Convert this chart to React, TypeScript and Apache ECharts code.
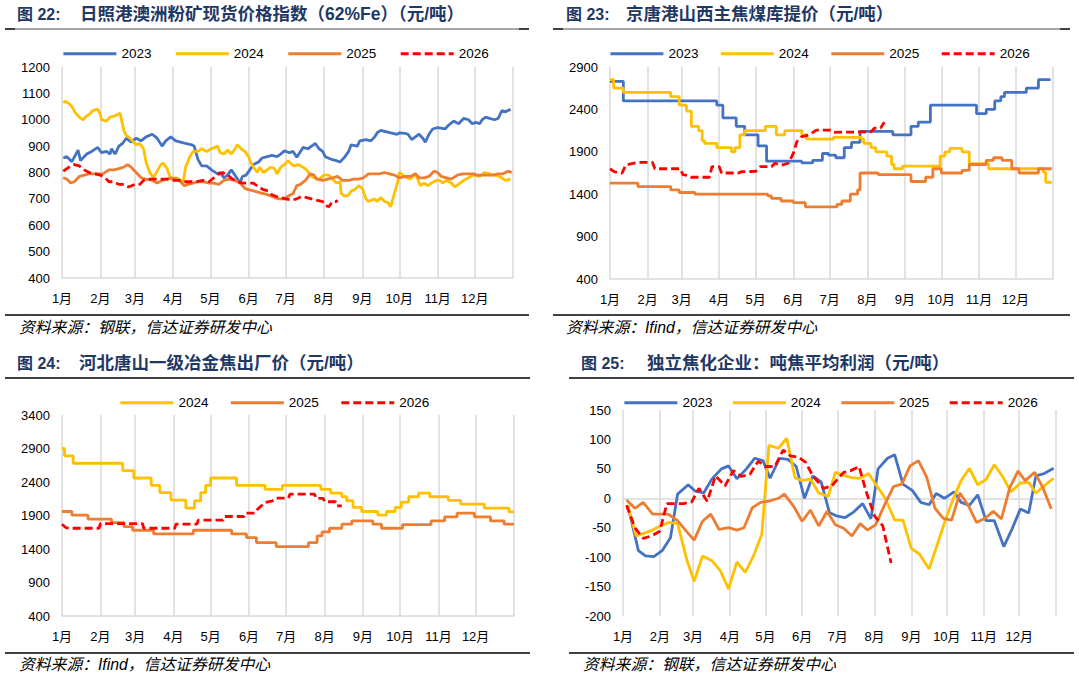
import React, { useEffect, useRef } from 'react';
import * as echarts from 'echarts';

// ---------- axis categories / tick labels ----------
const MONTH_LABELS = ['1月', '2月', '3月', '4月', '5月', '6月', '7月', '8月', '9月', '10月', '11月', '12月'];
const MONTH_START_DAYS = [0, 31, 59, 90, 120, 151, 181, 212, 243, 273, 304, 334, 365];
const DAY_CATEGORIES = Array.from({ length: 366 }, (_, i) => String(i));
const LEGEND_4 = ['2023', '2024', '2025', '2026'];
const LEGEND_3 = ['2024', '2025', '2026'];

// ---------- 图22 日照港澳洲粉矿现货价格指数 [day, value] ----------
const P1_2023 = [[1,855],[4,860],[8,841],[13,885],[15,845],[20,870],[24,880],[29,895],[32,875],[36,880],[39,870],[40,890],[43,870],[46,900],[49,910],[52,930],[56,915],[60,930],[64,920],[68,935],[73,945],[77,930],[81,900],[84,920],[88,935],[92,920],[96,915],[100,910],[105,905],[107,900],[110,850],[113,825],[117,825],[121,810],[126,795],[128,800],[131,780],[134,790],[137,810],[140,790],[142,775],[144,760],[146,785],[149,790],[152,810],[155,830],[159,840],[162,855],[166,860],[170,865],[174,860],[177,870],[180,882],[184,875],[187,880],[190,858],[193,880],[195,895],[199,890],[202,900],[205,910],[208,890],[211,880],[213,860],[218,850],[222,845],[225,840],[229,860],[232,880],[234,905],[239,900],[241,920],[246,925],[250,920],[253,935],[255,950],[258,960],[262,955],[266,950],[271,945],[273,950],[278,948],[280,945],[283,925],[286,935],[289,945],[292,930],[294,915],[297,945],[300,965],[304,970],[310,965],[313,980],[317,995],[321,985],[325,1005],[329,1000],[332,985],[335,990],[338,985],[340,1000],[343,1010],[346,1005],[350,1000],[353,1005],[356,1035],[359,1030],[363,1040]];
const P1_2024 = [[1,1065],[3,1070],[6,1060],[8,1050],[11,1025],[14,1010],[17,1000],[20,1015],[22,1020],[25,1035],[29,1040],[31,1020],[32,1000],[36,995],[39,1010],[43,1015],[47,1025],[50,960],[52,940],[54,935],[57,920],[60,905],[63,910],[66,890],[68,840],[71,800],[74,780],[77,805],[80,830],[82,835],[85,815],[88,775],[92,780],[95,775],[98,760],[100,820],[103,855],[106,880],[110,880],[113,890],[117,880],[121,890],[126,900],[128,875],[131,870],[134,885],[137,870],[140,890],[142,905],[145,890],[148,880],[151,860],[153,835],[158,800],[160,820],[163,800],[166,810],[169,820],[172,815],[174,795],[177,820],[180,830],[183,845],[186,830],[188,825],[191,830],[195,820],[198,810],[201,790],[204,780],[208,775],[212,790],[216,790],[219,775],[222,760],[225,765],[226,720],[229,710],[232,715],[234,730],[237,735],[240,750],[243,740],[246,700],[248,690],[253,700],[255,690],[258,705],[261,690],[264,685],[266,670],[269,720],[272,770],[273,800],[276,790],[279,780],[282,775],[285,790],[287,785],[290,750],[293,760],[296,750],[299,760],[303,770],[306,770],[308,760],[311,770],[315,760],[318,745],[322,760],[325,770],[329,780],[333,790],[338,785],[342,800],[346,795],[350,790],[354,785],[359,770],[363,775]];
const P1_2025 = [[1,780],[4,775],[7,760],[10,765],[14,785],[18,790],[22,795],[28,795],[33,795],[38,810],[42,810],[46,815],[50,820],[53,830],[56,820],[60,800],[64,780],[68,775],[73,770],[77,760],[81,770],[85,775],[89,780],[93,775],[96,765],[99,750],[102,755],[106,760],[110,765],[114,765],[119,760],[123,760],[127,755],[131,770],[135,775],[140,770],[144,760],[148,740],[151,735],[155,730],[159,725],[163,720],[167,715],[172,705],[176,700],[180,700],[183,710],[187,720],[190,750],[193,755],[197,770],[201,795],[204,790],[206,775],[211,770],[215,775],[219,780],[223,785],[227,770],[232,770],[236,775],[240,775],[244,780],[248,795],[253,795],[257,795],[261,800],[265,795],[269,790],[273,780],[278,785],[282,785],[286,795],[289,780],[293,780],[297,785],[301,805],[304,800],[307,785],[311,780],[315,775],[320,790],[324,795],[328,795],[333,795],[336,790],[340,790],[345,790],[349,790],[353,795],[357,795],[361,805],[364,800]];
const P1_2026 = [[1,805],[4,815],[7,825],[10,830],[14,825],[18,810],[22,800],[27,795],[31,790],[35,780],[38,765],[42,765],[46,755],[50,755],[54,745],[59,755],[63,755],[66,770],[70,775],[75,775],[81,775],[85,775],[89,770],[95,770],[100,765],[105,765],[109,765],[114,770],[119,765],[123,780],[127,795],[130,800],[134,790],[138,775],[142,765],[146,760],[151,760],[155,760],[159,745],[163,735],[167,730],[170,715],[173,710],[177,705],[181,700],[186,695],[190,700],[194,710],[198,705],[202,700],[206,695],[211,690],[213,675],[216,670],[219,690],[222,690],[223,695]];

// ---------- 图23 京唐港山西主焦煤库提价 (step change points) ----------
const P2_2023 = [[0,2730],[11,2500],[88,2450],[93,2300],[104,2200],[111,2100],[122,1970],[129,1790],[158,1770],[167,1800],[175,1880],[180,1860],[186,1830],[193,1950],[199,2010],[206,2140],[233,2100],[248,2200],[254,2250],[264,2450],[302,2350],[310,2400],[317,2500],[322,2550],[325,2600],[343,2650],[353,2750],[363,2750]];
const P2_2024 = [[0,2750],[3,2650],[11,2600],[50,2550],[57,2450],[63,2380],[67,2200],[73,2150],[76,2030],[78,2000],[88,1950],[100,1900],[103,1950],[107,2100],[111,2150],[128,2200],[137,2100],[144,2150],[158,2100],[162,2050],[184,2070],[207,2050],[209,2000],[215,1950],[219,1900],[228,1850],[232,1750],[234,1700],[241,1730],[272,1850],[276,1900],[280,1940],[290,1900],[296,1760],[312,1700],[355,1700],[357,1660],[359,1540],[364,1540]];
const P2_2025 = [[0,1530],[23,1490],[50,1450],[57,1420],[70,1400],[130,1380],[133,1350],[141,1320],[151,1300],[161,1250],[187,1280],[191,1320],[198,1400],[204,1450],[206,1650],[221,1630],[248,1550],[260,1600],[266,1700],[273,1650],[290,1680],[296,1750],[310,1800],[316,1830],[323,1800],[331,1700],[337,1650],[353,1700],[364,1700]];
const P2_2026 = [[0,1700],[3,1670],[7,1650],[10,1650],[13,1745],[18,1760],[23,1775],[35,1775],[37,1700],[58,1700],[60,1630],[65,1620],[67,1600],[82,1600],[84,1725],[90,1725],[92,1650],[106,1650],[108,1665],[120,1670],[122,1690],[124,1725],[133,1725],[136,1765],[141,1740],[147,1765],[151,1880],[154,2020],[158,2080],[164,2100],[170,2155],[182,2155],[184,2130],[215,2135],[218,2180],[223,2180],[226,2250]];

// ---------- 图24 河北唐山一级冶金焦出厂价 ----------
const P3_2024 = [[0,2900],[2,2790],[9,2680],[49,2570],[58,2460],[72,2350],[79,2240],[88,2130],[100,2010],[107,2120],[112,2240],[116,2350],[120,2460],[141,2350],[164,2290],[178,2350],[209,2290],[217,2235],[226,2180],[230,2120],[235,2020],[242,1960],[255,1905],[262,1960],[269,2020],[274,2100],[280,2180],[288,2235],[297,2180],[312,2125],[322,2070],[341,2010],[361,1955],[365,1955]];
const P3_2025 = [[0,1960],[8,1905],[21,1845],[40,1795],[50,1735],[57,1680],[74,1625],[106,1680],[137,1625],[149,1570],[157,1495],[173,1435],[199,1495],[206,1595],[210,1655],[216,1710],[226,1770],[234,1820],[251,1770],[258,1710],[275,1765],[298,1820],[309,1880],[319,1935],[333,1880],[346,1820],[357,1770],[365,1770]];
const P3_2026 = [[0,1770],[3,1720],[6,1710],[30,1710],[31,1780],[65,1780],[66,1710],[91,1710],[92,1770],[109,1770],[110,1830],[130,1830],[131,1885],[147,1885],[148,1935],[156,1935],[158,1995],[164,2095],[170,2120],[173,2160],[183,2160],[184,2220],[204,2220],[205,2155],[211,2155],[212,2105],[221,2105],[222,2045],[226,2045]];

// ---------- 图25 独立焦化企业：吨焦平均利润 ----------
const P4_2023 = [[4,-12],[13,-89],[19,-98],[26,-99],[33,-89],[40,-67],[46,7],[55,23],[61,12],[68,9],[75,33],[83,50],[89,55],[96,33],[104,50],[111,68],[118,64],[124,34],[132,68],[139,66],[146,54],[153,0],[160,38],[167,28],[174,-24],[180,-30],[187,-33],[194,-24],[202,-9],[209,-35],[215,50],[223,68],[229,74],[236,24],[244,13],[251,-7],[258,-11],[264,8],[271,0],[279,11],[285,-7],[292,-12],[299,6],[306,-38],[313,-38],[321,-82],[328,-52],[335,-18],[342,-25],[348,38],[355,42],[363,51]];
const P4_2024 = [[4,-12],[11,-64],[17,-60],[25,-54],[32,-46],[39,-41],[46,-43],[54,-106],[60,-141],[67,-98],[75,-106],[82,-123],[89,-154],[96,-108],[103,-126],[110,-98],[117,-61],[123,90],[131,85],[138,102],[145,35],[151,30],[158,33],[165,9],[173,3],[179,44],[186,39],[193,35],[200,34],[207,42],[214,21],[221,0],[229,-37],[236,-37],[243,-85],[250,-95],[258,-120],[265,-78],[272,-35],[279,2],[285,30],[292,51],[299,23],[306,32],[313,57],[320,37],[327,11],[335,26],[342,27],[348,9],[355,21],[363,34]];
const P4_2025 = [[3,-3],[10,-17],[17,-7],[25,-27],[32,-27],[38,-27],[46,-38],[53,-55],[60,-71],[67,-39],[74,-27],[81,-53],[89,-50],[96,-54],[102,-50],[109,-16],[116,-7],[123,-5],[131,0],[136,7],[144,-14],[151,-39],[158,-20],[165,-47],[172,-22],[179,-45],[186,-51],[193,-64],[200,-43],[206,-54],[213,-45],[221,-9],[228,20],[235,24],[242,55],[249,64],[256,36],[263,-17],[270,-34],[277,-37],[284,9],[291,-12],[298,-41],[306,-33],[312,-22],[319,-35],[326,18],[333,46],[339,30],[347,44],[354,18],[361,-18]];
const P4_2026 = [[3,-12],[10,-50],[17,-68],[24,-64],[31,-56],[37,-9],[44,-9],[51,-9],[58,-6],[64,17],[71,-5],[78,38],[86,21],[93,47],[100,37],[107,41],[114,63],[120,54],[128,54],[135,82],[141,72],[148,70],[154,61],[160,38],[169,17],[176,21],[181,33],[186,44],[192,47],[199,54],[205,11],[212,-30],[219,-47],[226,-110]];

const FONT = "'Liberation Sans', Arial, 'Noto Sans CJK SC', sans-serif";
const CJK = "'Liberation Sans', 'Noto Sans CJK SC', sans-serif";
const COLORS: Record<string, string> = { '2023': '#4472C4', '2024': '#FFC000', '2025': '#ED7D31', '2026': '#FF0000' };
const GRID_LINE = '#D9D9D9';
const TITLE_COLOR = '#1F3864';

function isMonthStart(i: number) {
  return MONTH_START_DAYS.indexOf(i) >= 0;
}

function makeX(gridIndex: number, showLine: boolean) {
  return {
    type: 'category',
    gridIndex,
    data: DAY_CATEGORIES,
    boundaryGap: false,
    axisLine: { show: showLine, lineStyle: { color: GRID_LINE, width: 1.5 } },
    axisTick: { show: false },
    axisLabel: {
      interval: (i: number) => isMonthStart(i) && i < 365,
      formatter: (v: string) => {
        const k = MONTH_START_DAYS.indexOf(Number(v));
        return k >= 0 && k < 12 ? MONTH_LABELS[k] : '';
      },
      color: '#000',
      fontSize: 13,
      margin: 14,
      fontFamily: FONT,
    },
    splitLine: {
      show: true,
      interval: (i: number) => isMonthStart(i),
      lineStyle: { color: GRID_LINE, width: 1.5 },
    },
  };
}

function makeY(gridIndex: number, min: number, max: number, interval: number) {
  return {
    type: 'value',
    gridIndex,
    min,
    max,
    interval,
    axisLine: { show: false },
    axisTick: { show: false },
    splitLine: { show: false },
    axisLabel: {
      color: '#000',
      fontSize: 13,
      margin: 12,
      fontFamily: FONT,
      formatter: (v: number) => String(v),
    },
  };
}

function makeSeries(name: string, idx: number, data: number[][], step?: string) {
  const dashed = name === '2026';
  return {
    type: 'line',
    name,
    xAxisIndex: idx,
    yAxisIndex: idx,
    data,
    step: step || false,
    symbol: 'none',
    showSymbol: false,
    smooth: false,
    lineStyle: { color: COLORS[name], width: 2.8, type: dashed ? [8, 4] : 'solid' },
    itemStyle: { color: COLORS[name] },
    emphasis: { disabled: true },
    z: dashed ? 5 : 3,
  };
}

function makeLegend(names: string[], left: number, top: number, gap: number) {
  return {
    data: names,
    left,
    top,
    orient: 'horizontal',
    itemWidth: 53,
    itemHeight: 2,
    itemGap: gap,
    selectedMode: false,
    padding: 0,
    itemStyle: { opacity: 0 },
    lineStyle: { width: 2.8 },
    textStyle: { fontSize: 13.5, color: '#000', fontFamily: FONT },
  };
}

function text(x: number, y: number, t: string, o: any) {
  return {
    type: 'text',
    x,
    y,
    silent: true,
    style: {
      text: t,
      fill: o.fill || '#000',
      fontSize: o.fontSize,
      fontWeight: o.fontWeight || 'normal',
      fontStyle: o.fontStyle || 'normal',
      fontFamily: o.fontFamily || CJK,
      verticalAlign: 'middle',
      textVerticalAlign: 'middle',
      align: 'left',
    },
  };
}

function line(x1: number, y1: number, x2: number, y2: number, stroke: string, w: number) {
  return { type: 'line', silent: true, shape: { x1, y1, x2, y2 }, style: { stroke, lineWidth: w } };
}

function buildGraphic() {
  const g: any[] = [];
  const titleNum = { fill: TITLE_COLOR, fontSize: 16, fontWeight: 'bold' };
  const titleTxt = { fill: TITLE_COLOR, fontSize: 17.5, fontWeight: 'bold' };
  const src = { fill: '#000', fontSize: 15.8, fontStyle: 'italic' };
  // titles
  g.push(text(17, 14, '图 22:', titleNum));
  g.push(text(80, 14, '日照港澳洲粉矿现货价格指数（62%Fe）（元/吨）', titleTxt));
  g.push(text(566, 14, '图 23:', titleNum));
  g.push(text(626, 14, '京唐港山西主焦煤库提价（元/吨）', titleTxt));
  g.push(text(17, 363, '图 24:', titleNum));
  g.push(text(79, 363, '河北唐山一级冶金焦出厂价（元/吨）', titleTxt));
  g.push(text(581, 363, '图 25:', titleNum));
  g.push(text(647, 363, '独立焦化企业：吨焦平均利润（元/吨）', titleTxt));
  // separators top row
  g.push(line(5, 29, 529, 29, '#A6A6A6', 2));
  g.push(line(5, 29, 15, 29, '#404040', 2));
  g.push(line(519, 29, 529, 29, '#404040', 2));
  g.push(line(553, 29, 1070, 29, '#A6A6A6', 2));
  g.push(line(553, 29, 563, 29, '#404040', 2));
  g.push(line(1060, 29, 1070, 29, '#404040', 2));
  g.push(line(5, 315, 529, 315, '#000', 1.3));
  g.push(line(553, 315, 1070, 315, '#000', 1.3));
  // separators bottom row
  g.push(line(5, 378, 530, 378, '#000', 1.3));
  g.push(line(569, 378, 1074, 378, '#000', 1.3));
  g.push(line(5, 653, 530, 653, '#000', 1.3));
  g.push(line(569, 653, 1074, 653, '#000', 1.3));
  // sources
  g.push(text(19, 327, '资料来源：钢联，信达证券研发中心', src));
  g.push(text(566, 327, '资料来源：Ifind，信达证券研发中心', src));
  g.push(text(19, 664, '资料来源：Ifind，信达证券研发中心', src));
  g.push(text(583, 664, '资料来源：钢联，信达证券研发中心', src));
  return g;
}

export default function App() {
  const ref = useRef<HTMLDivElement>(null);
  useEffect(() => {
    document.body.style.margin = '0';
    document.body.style.background = '#fff';
    if (!ref.current) return;
    const chart = echarts.init(ref.current, null, { renderer: 'svg' });
    const p4first: any = makeSeries('2023', 3, P4_2023);
    p4first.markLine = {
      silent: true,
      symbol: 'none',
      label: { show: false },
      lineStyle: { color: GRID_LINE, width: 1.5, type: 'solid' },
      data: [{ yAxis: 0 }],
      z: 1,
    };
    const option: any = {
      animation: false,
      backgroundColor: '#fff',
      textStyle: { fontFamily: FONT },
      grid: [
        { left: 62, top: 67, width: 451, height: 211, outerBoundsMode: 'none', containLabel: false },
        { left: 610, top: 67, width: 443, height: 212, outerBoundsMode: 'none', containLabel: false },
        { left: 62, top: 415, width: 452, height: 201, outerBoundsMode: 'none', containLabel: false },
        { left: 623, top: 410, width: 433, height: 206, outerBoundsMode: 'none', containLabel: false },
      ],
      xAxis: [makeX(0, true), makeX(1, true), makeX(2, true), makeX(3, false)],
      yAxis: [
        makeY(0, 400, 1200, 100),
        makeY(1, 400, 2900, 500),
        makeY(2, 400, 3400, 500),
        makeY(3, -200, 150, 50),
      ],
      legend: [
        makeLegend(LEGEND_4, 62, 47, 23),
        makeLegend(LEGEND_4, 609, 47, 21),
        makeLegend(LEGEND_3, 119, 396, 21),
        makeLegend(LEGEND_4, 623, 396, 19),
      ],
      series: [
        makeSeries('2023', 0, P1_2023),
        makeSeries('2024', 0, P1_2024),
        makeSeries('2025', 0, P1_2025),
        makeSeries('2026', 0, P1_2026),
        makeSeries('2023', 1, P2_2023, 'end'),
        makeSeries('2024', 1, P2_2024, 'end'),
        makeSeries('2025', 1, P2_2025, 'end'),
        makeSeries('2026', 1, P2_2026),
        makeSeries('2024', 2, P3_2024, 'end'),
        makeSeries('2025', 2, P3_2025, 'end'),
        makeSeries('2026', 2, P3_2026),
        p4first,
        makeSeries('2024', 3, P4_2024),
        makeSeries('2025', 3, P4_2025),
        makeSeries('2026', 3, P4_2026),
      ],
      graphic: buildGraphic(),
    };
    chart.setOption(option);
    return () => chart.dispose();
  }, []);
  return <div ref={ref} style={{ width: 1079, height: 678, background: '#fff' }} />;
}
